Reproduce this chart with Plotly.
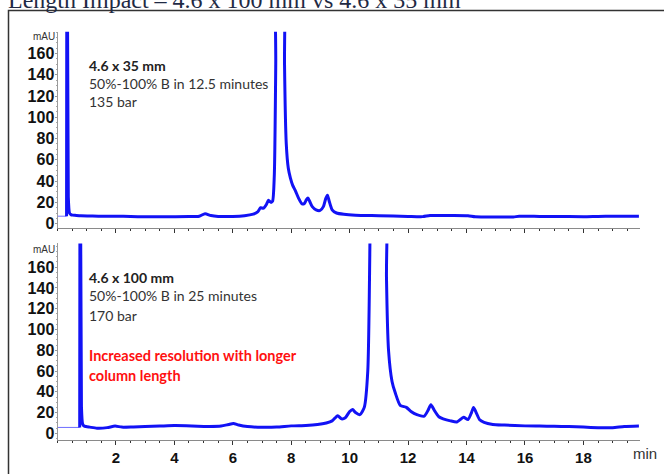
import plotly.graph_objects as go

W, H = 664, 474

# ---- data ----
# 4.6 x 35 mm chromatogram (time in min, signal in mAU)
t35_pre = [0.0, 0.31]
y35_pre = [7.0, 7.0]
t35 = [0.31, 0.33, 0.37, 0.41, 0.46, 0.52, 0.6, 0.8, 1.2, 1.6, 2.0, 2.5, 3.0, 3.5, 4.0, 4.5,
       4.85, 5.05, 5.25, 5.5, 6.0, 6.4, 6.7, 6.85, 6.95, 7.05, 7.15, 7.22, 7.3, 7.36, 7.42,
       7.47, 7.52, 7.72, 7.77, 7.83, 7.9, 7.97, 8.05, 8.14, 8.25, 8.37, 8.45, 8.52, 8.57,
       8.63, 8.72, 8.85, 8.99, 9.1, 9.18, 9.24, 9.3, 9.4, 9.55, 9.8, 10.2, 11.0, 12.0, 12.5,
       12.75, 13.5, 14.05, 14.3, 15.0, 15.6, 15.8, 16.5, 17.0, 18.0, 18.5, 19.0, 19.9]
y35 = [7.0, 400, 25, 10, 8.5, 8.0, 7.8, 7.3, 7.1, 7.0, 7.0, 6.7, 6.5, 6.5, 6.5, 6.6,
       7.0, 9.3, 7.6, 6.8, 6.8, 7.5, 9.0, 11.0, 15.0, 14.5, 18.0, 22.0, 20.0, 21.0, 45,
       150, 400, 400, 150, 75, 52, 43, 36, 31, 24, 18.5, 19.0, 22.5, 24.0,
       21.0, 16.0, 13.0, 12.4, 16.0, 23.5, 26.7, 21.0, 13.0, 10.0, 8.8, 8.0, 7.5, 6.8, 6.6,
       7.6, 7.6, 7.4, 6.4, 6.2, 6.3, 6.9, 6.8, 6.8, 6.5, 6.8, 7.0, 7.0]

# 4.6 x 100 mm chromatogram
t100_pre = [0.0, 0.76]
y100_pre = [5.7, 5.7]
t100 = [0.76, 0.78, 0.82, 0.86, 0.91, 0.98, 1.1, 1.35, 1.7, 1.97, 2.2, 2.6, 3.0, 3.5, 4.0,
        4.4, 4.8, 5.2, 5.6, 5.85, 6.02, 6.2, 6.5, 7.0, 7.5, 8.0, 8.5, 8.9, 9.2, 9.4, 9.59,
        9.72, 9.85, 10.0, 10.1, 10.2, 10.35, 10.5, 10.62, 10.7, 10.76, 11.2, 11.26, 11.33,
        11.45, 11.56, 11.73, 11.94, 12.1, 12.3, 12.55, 12.68, 12.78, 12.9, 13.05, 13.2,
        13.45, 13.67, 13.9, 14.05, 14.17, 14.24, 14.33, 14.45, 14.6, 14.9, 15.3, 16.0,
        16.5, 17.0, 17.5, 18.0, 18.5, 19.0, 19.4, 19.9]
y100 = [5.7, 400, 25, 9, 7.0, 6.5, 6.0, 5.0, 5.5, 7.0, 6.0, 6.2, 6.5, 7.0, 7.5,
        7.3, 6.8, 6.6, 7.0, 8.5, 9.5, 8.0, 6.5, 5.8, 6.0, 7.2, 7.6, 8.5, 10.0, 12.0, 17.0,
        14.0, 15.0, 21.0, 23.0, 20.0, 18.0, 25.0, 60, 200, 400, 400, 150, 80,
        50, 39, 27, 25, 21, 18, 16.5, 22, 27.6, 22, 16, 14,
        12, 11, 15.5, 13.3, 20, 25, 20, 13, 10.5, 8.6, 8.0, 7.2,
        7.0, 6.8, 6.5, 6.0, 5.5, 5.4, 6.5, 7.0]

x_ticks = [2, 4, 6, 8, 10, 12, 14, 16, 18]
y_ticks = [0, 20, 40, 60, 80, 100, 120, 140, 160]

# ---- figure ----
BLUE = "rgb(18,18,245)"
THIN = "rgb(110,110,255)"

fig = go.Figure()
fig.add_trace(go.Scatter(x=t35_pre, y=y35_pre, mode="lines", line=dict(color=THIN, width=1),
                         xaxis="x", yaxis="y", showlegend=False))
fig.add_trace(go.Scatter(x=t35, y=y35, mode="lines",
                         line=dict(color=BLUE, width=3, shape="spline", smoothing=0.6),
                         xaxis="x", yaxis="y", showlegend=False))
fig.add_trace(go.Scatter(x=t100_pre, y=y100_pre, mode="lines", line=dict(color=THIN, width=1),
                         xaxis="x2", yaxis="y2", showlegend=False))
fig.add_trace(go.Scatter(x=t100, y=y100, mode="lines",
                         line=dict(color=BLUE, width=3, shape="spline", smoothing=0.6),
                         xaxis="x2", yaxis="y2", showlegend=False))

def px_x(p):
    return p / W

def px_y(p):
    return 1 - p / H

xdom = [px_x(57.5), px_x(639.5)]
xrange = [0, 19.92]

common_x = dict(range=xrange, domain=xdom, showgrid=False, zeroline=False,
                showline=True, linecolor="#8a8a8a", linewidth=1,
                ticks="outside", ticklen=4, tickcolor="#333", tickwidth=1,
                tickvals=x_ticks,
                minor=dict(dtick=0.5, tick0=0, ticks="outside", ticklen=2,
                           tickcolor="#333", tickwidth=1))
common_y = dict(showgrid=False, zeroline=False, showline=True, linecolor="#9a9a9a",
                linewidth=1, ticks="outside", ticklen=2, tickcolor="#999",
                ticklabelstandoff=-3,
                tickvals=y_ticks, ticktext=[str(v) for v in y_ticks],
                tickfont=dict(family="Liberation Sans, Arial", size=16, color="#111",
                              weight="bold"),
                minor=dict(dtick=5, ticks="outside", ticklen=1, tickcolor="#aaa"))

fig.update_layout(
    width=W, height=H,
    margin=dict(l=0, r=0, t=0, b=0),
    paper_bgcolor="white", plot_bgcolor="white",
    xaxis=dict(**common_x, anchor="y", showticklabels=False),
    yaxis=dict(**common_y, anchor="x", range=[-3.7, 180.5],
               domain=[px_y(230), px_y(32)]),
    xaxis2=dict(**common_x, anchor="y2", showticklabels=True,
                ticktext=[str(v) for v in x_ticks],
                tickfont=dict(family="Liberation Sans, Arial", size=15, color="#111",
                              weight="bold")),
    yaxis2=dict(**common_y, anchor="x2", range=[-6.7, 182.9],
                domain=[px_y(445), px_y(246)]),
)

def ann(text, x, y, size, color="#333", bold=False, family="Lato", xanchor="left",
        yanchor="middle"):
    fig.add_annotation(x=px_x(x), y=px_y(y), xref="paper", yref="paper",
                       text=text, showarrow=False, xanchor=xanchor, yanchor=yanchor,
                       font=dict(family=family, size=size, color=color,
                                 weight="bold" if bold else "normal"))

# title (cut off at top of the image, as in the source)
ann("Length Impact – 4.6 x 100 mm vs 4.6 x 35 mm", 6, -0.5, 24, color="#1f2a44",
    family="Liberation Serif, Times New Roman")

# mAU labels
ann("mAU", 57, 37, 10, color="#333", family="Liberation Sans, Arial", xanchor="right")
ann("mAU", 57, 252, 10, color="#333", family="Liberation Sans, Arial", xanchor="right")
# min label
ann("min", 631, 458, 15, color="#333", family="Liberation Sans, Arial")

# top panel text
ann("4.6 x 35 mm", 87, 66, 14, bold=True, color="#222")
ann("50%-100% B in 12.5 minutes", 87, 84, 14)
ann("135 bar", 87, 103, 14)

# bottom panel text
ann("4.6 x 100 mm", 87, 280, 14, bold=True, color="#222")
ann("50%-100% B in 25 minutes", 87, 299, 14)
ann("170 bar", 87, 319, 14)
ann("Increased resolution with longer", 87, 359, 14.5, bold=True, color="#ff1010")
ann("column length", 87, 380, 14.5, bold=True, color="#ff1010")

# outer frame (extends beyond the image on the right and bottom)
fig.add_shape(type="rect", xref="paper", yref="paper",
              x0=px_x(8.5), x1=1.2, y0=-0.2, y1=px_y(10.5),
              line=dict(color="#333", width=1.5), fillcolor="rgba(0,0,0,0)", layer="below")

fig.write_html("out.html")
